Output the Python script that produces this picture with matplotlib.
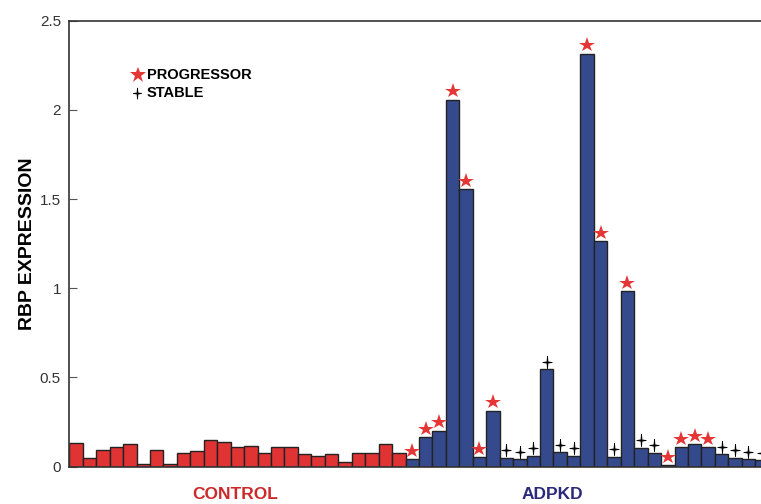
import numpy as np
import matplotlib
matplotlib.use("Agg")
import matplotlib.pyplot as plt

plt.rcParams['font.family'] = ['Liberation Sans', 'DejaVu Sans']

control = [0.131, 0.047, 0.095, 0.110, 0.125, 0.013, 0.095, 0.013, 0.077, 0.088,
           0.151, 0.136, 0.110, 0.118, 0.077, 0.108, 0.108, 0.069, 0.062, 0.069,
           0.028, 0.077, 0.077, 0.125, 0.077]
adpkd = [0.041, 0.166, 0.202, 2.057, 1.558, 0.054, 0.314, 0.049, 0.041, 0.062,
         0.547, 0.082, 0.062, 2.315, 1.265, 0.056, 0.986, 0.105, 0.077, 0.007,
         0.112, 0.127, 0.112, 0.069, 0.049, 0.041, 0.036]
# P = progressor (red star), S = stable (black cross)
status = ['P', 'P', 'P', 'P', 'P', 'P', 'P', 'S', 'S', 'S',
          'S', 'S', 'S', 'P', 'P', 'S', 'P', 'S', 'S', 'P',
          'P', 'P', 'P', 'S', 'S', 'S', 'S']

nc = len(control)
na = len(adpkd)
xc = np.arange(nc)
xa = np.arange(nc, nc + na)

# thin four-pointed cross (a bit taller than wide) for the "stable" marks
r_in = 0.14
cross = []
for k in range(8):
    ang = np.pi / 2 + k * np.pi / 4
    r = 1.0 if k % 2 == 0 else r_in
    cross.append((0.75 * r * np.cos(ang), r * np.sin(ang)))
cross.append(cross[0])

fig = plt.figure(figsize=(7.61, 5.04), dpi=100)
ax = fig.add_axes([0.091, 0.074, 0.909, 0.885])

ax.bar(xc, control, width=1, color='#e03333', edgecolor='#222222', linewidth=1)
ax.bar(xa, adpkd, width=1, color='#344a8c', edgecolor='#222222', linewidth=1)

vals = np.array(adpkd)
stat = np.array(status)
prog = stat == 'P'
stab = stat == 'S'
ax.plot(xa[prog], vals[prog] + 0.046, linestyle='none', marker='*',
        markersize=11.5, color='#e53535', markeredgewidth=0, clip_on=False)
ax.plot(xa[stab], vals[stab] + 0.042, linestyle='none', marker=cross,
        markersize=9, color='black', markeredgewidth=0.6, clip_on=False)

ax.set_xlim(-0.5, 50.93)
ax.set_ylim(0, 2.5)
ax.set_yticks([0, 0.5, 1, 1.5, 2, 2.5])
ax.set_yticklabels(['0', '0.5', '1', '1.5', '2', '2.5'])
ax.set_xticks([])
ax.tick_params(axis='y', direction='in', length=6, width=0.8, colors='#555555',
               labelcolor='#333333', labelsize=11, pad=6)
ax.spines['right'].set_visible(False)
for s in ['left', 'bottom', 'top']:
    ax.spines[s].set_color('#333333')
    ax.spines[s].set_linewidth(1.2)

ax.set_ylabel('RBP EXPRESSION', fontsize=14, fontweight='bold', labelpad=3)

# legend drawn as markers + text in axes coordinates
ax.plot([0.099], [0.878], transform=ax.transAxes, marker='*', markersize=12,
        color='#e53535', markeredgewidth=0, linestyle='none')
ax.plot([0.098], [0.838], transform=ax.transAxes, marker=cross, markersize=8,
        color='black', markeredgewidth=0.6, linestyle='none')
ax.text(0.112, 0.878, 'PROGRESSOR', transform=ax.transAxes, fontsize=10.5,
        fontweight='bold', va='center', ha='left')
ax.text(0.112, 0.838, 'STABLE', transform=ax.transAxes, fontsize=10.5,
        fontweight='bold', va='center', ha='left')

fig.text(235 / 761, 1 - 494.7 / 504, 'CONTROL', color='#cc2a2a', fontsize=12.5,
         fontweight='bold', ha='center', va='center')
fig.text(552 / 761, 1 - 494.7 / 504, 'ADPKD', color='#2b2a7a', fontsize=12.5,
         fontweight='bold', ha='center', va='center')

fig.savefig('out.png', dpi=100)
